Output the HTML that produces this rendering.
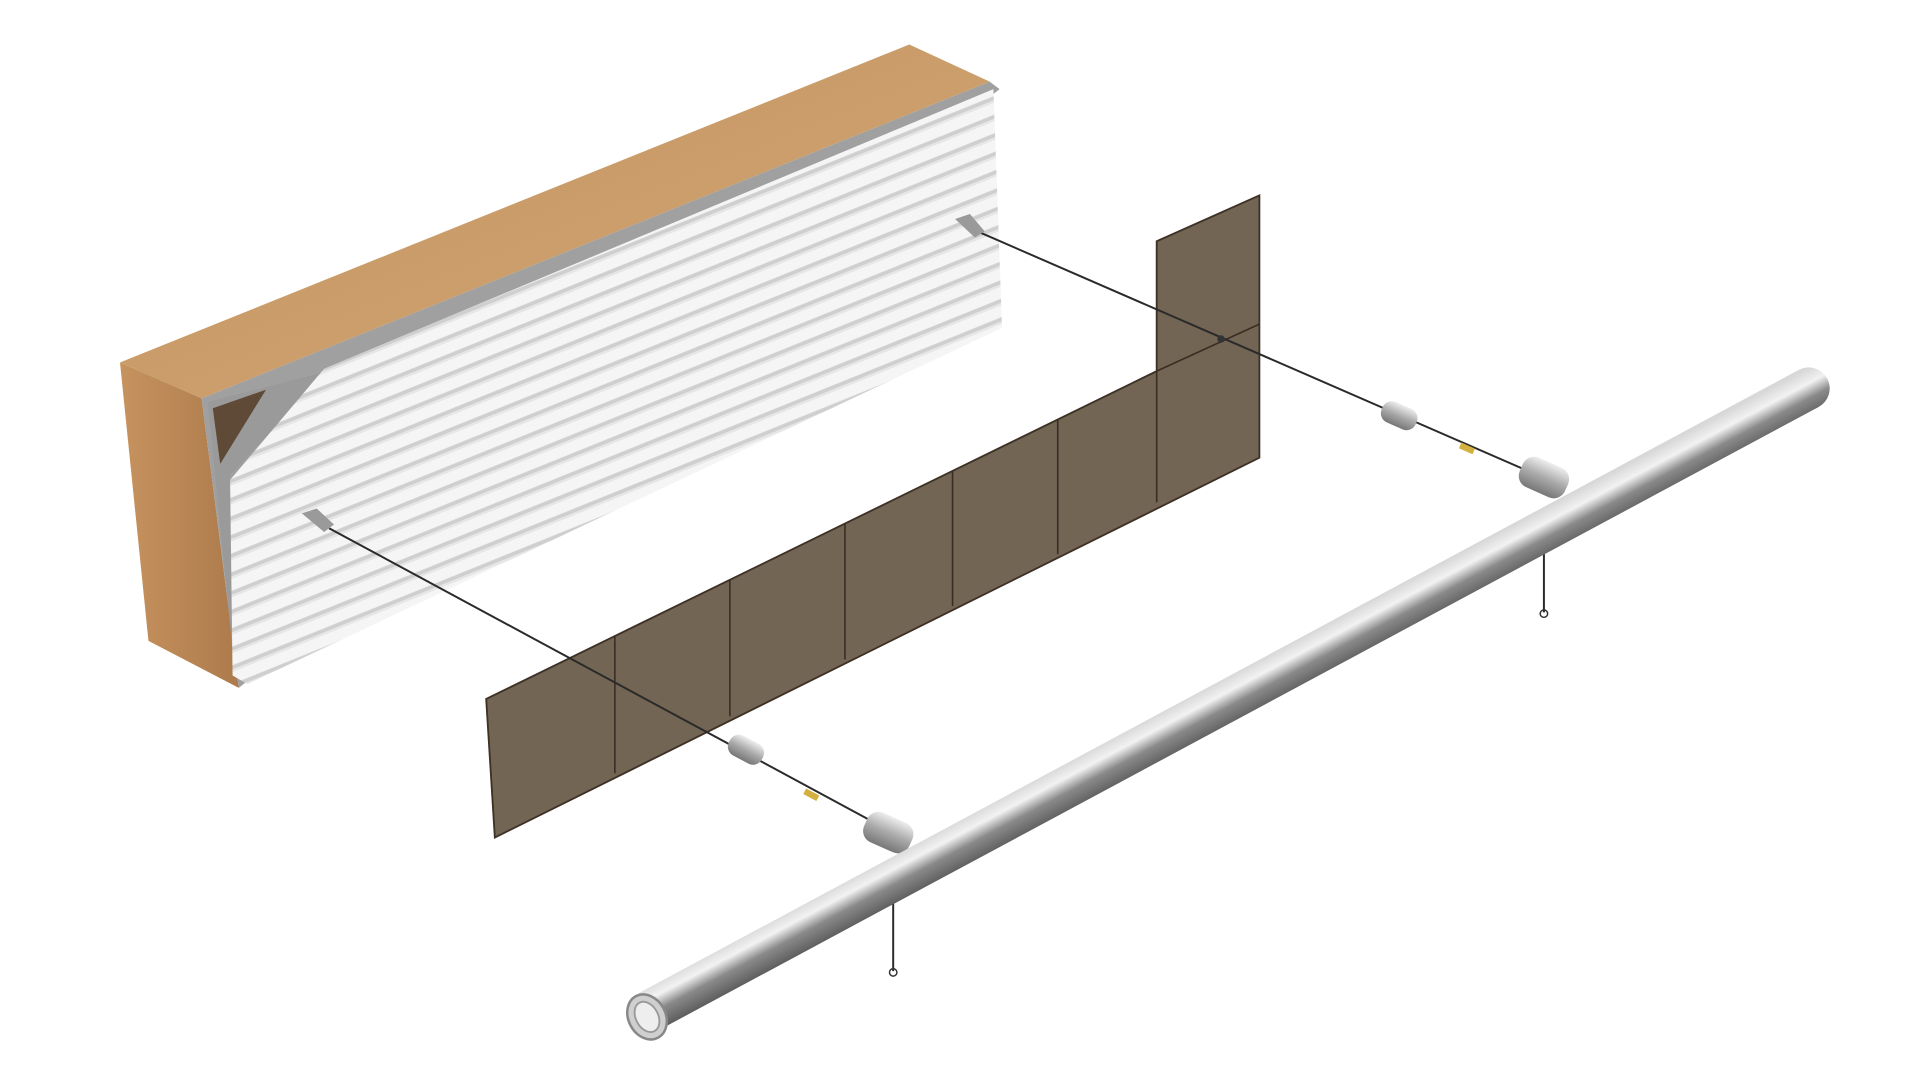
<!DOCTYPE html>
<html><head><meta charset="utf-8"><style>html,body{margin:0;padding:0;background:#fff;width:1920px;height:1080px;overflow:hidden}</style></head>
<body>
<svg width="1920" height="1080" viewBox="0 0 1552 873" preserveAspectRatio="none" xmlns="http://www.w3.org/2000/svg">
<defs>
<linearGradient id="wood" x1="0" y1="0" x2="1" y2="1"><stop offset="0" stop-color="#c4935e"/><stop offset="1" stop-color="#d2a776"/></linearGradient>
<linearGradient id="woodside" x1="0" y1="0" x2="1" y2="0"><stop offset="0" stop-color="#c6935f"/><stop offset="1" stop-color="#ad7a4b"/></linearGradient>
<pattern id="corr" patternUnits="userSpaceOnUse" width="14" height="14" patternTransform="rotate(-22)">
<rect width="14" height="14" fill="#f5f5f5"/><rect y="9" width="14" height="3" fill="#cfcfcf"/><rect y="12" width="14" height="2" fill="#e6e6e6"/></pattern>
<linearGradient id="pipe" gradientUnits="userSpaceOnUse" x1="983" y1="552" x2="1000" y2="584"><stop offset="0" stop-color="#d8d8d8"/><stop offset="0.3" stop-color="#f2f2f2"/><stop offset="0.6" stop-color="#8a8a8a"/><stop offset="1" stop-color="#5e5e5e"/></linearGradient>
<linearGradient id="cyl" x1="0" y1="0" x2="0" y2="1"><stop offset="0" stop-color="#eee"/><stop offset="0.5" stop-color="#aaa"/><stop offset="1" stop-color="#777"/></linearGradient>
</defs>
<!-- wood block -->
<polygon points="97,293 735,36 800,66 163,322" fill="url(#wood)"/>
<polygon points="97,293 163,322 193,556 120,518" fill="url(#woodside)"/>
<polygon points="163,322 800,66 808,72 193,556" fill="#a0a0a0"/>
<polygon points="168,325 265,300 186,384 190,545" fill="#9a9a9a"/>
<polygon points="172,330 215,315 178,375" fill="#5e4a36"/>
<!-- corrugated panel -->
<polygon points="262,298 803,72 810,265 200,553 188,546 186,388" fill="url(#corr)"/>
<!-- brown panel -->
<polygon points="393,565 935,300 935,195 1018,158 1018,370 400,677" fill="#736554" stroke="#3e3126" stroke-width="1.5"/>
<g stroke="#3a2e24" stroke-width="1.3">
<line x1="497" y1="514" x2="497" y2="625"/><line x1="590" y1="469" x2="590" y2="579"/>
<line x1="683" y1="423" x2="683" y2="533"/><line x1="770" y1="381" x2="770" y2="490"/>
<line x1="855" y1="339" x2="855" y2="448"/><line x1="935" y1="300" x2="935" y2="406"/>
<line x1="935" y1="300" x2="1018" y2="262"/>
</g>
<!-- wires -->
<g stroke="#2a2a2a" stroke-width="1.6" fill="none">
<line x1="266" y1="427" x2="720" y2="672"/>
<line x1="790" y1="187" x2="1245" y2="385"/>
<line x1="722" y1="695" x2="722" y2="785"/>
<line x1="1248" y1="410" x2="1248" y2="495"/>
</g>
<polygon points="244,415 256,411 270,424 262,430" fill="#9a9a9a"/>
<polygon points="772,177 784,173 796,187 788,192" fill="#9a9a9a"/>
<circle cx="987" cy="274" r="3" fill="#333"/>
<!-- small fittings -->
<g>
<rect x="588" y="597" width="30" height="18" rx="8" fill="url(#cyl)" transform="rotate(28 603 606)"/>
<rect x="1116" y="327" width="30" height="18" rx="8" fill="url(#cyl)" transform="rotate(24 1131 336)"/>
<rect x="650" y="640" width="12" height="5" fill="#d4b040" transform="rotate(28 656 642)"/>
<rect x="1180" y="360" width="12" height="5" fill="#d4b040" transform="rotate(24 1186 362)"/>
<rect x="698" y="660" width="40" height="26" rx="10" fill="url(#cyl)" transform="rotate(24 718 673)"/>
<rect x="1228" y="373" width="40" height="26" rx="10" fill="url(#cyl)" transform="rotate(24 1248 386)"/>
</g>
<!-- pipe -->
<line x1="524" y1="818" x2="1462" y2="314" stroke="url(#pipe)" stroke-width="34" stroke-linecap="round"/>
<ellipse cx="523" cy="822" rx="15" ry="19" transform="rotate(-28 523 822)" fill="#cfcfcf" stroke="#888" stroke-width="2"/>
<ellipse cx="523" cy="822" rx="9" ry="13" transform="rotate(-28 523 822)" fill="#eee" stroke="#999" stroke-width="1.5"/>
<circle cx="722" cy="786" r="3" fill="none" stroke="#333" stroke-width="1.2"/>
<circle cx="1248" cy="496" r="3" fill="none" stroke="#333" stroke-width="1.2"/>
</svg>
</body></html>
